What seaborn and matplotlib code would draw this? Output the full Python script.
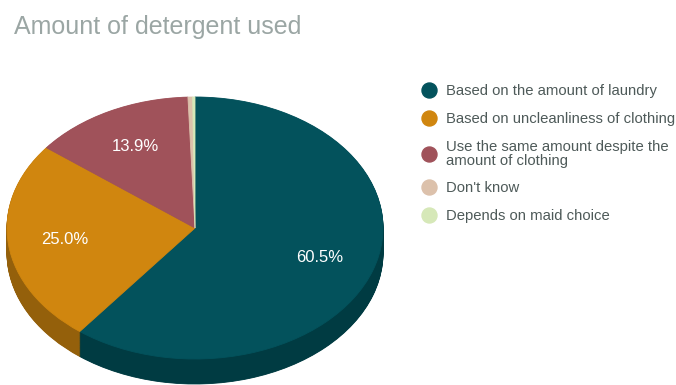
import matplotlib
matplotlib.use("Agg")
import matplotlib.pyplot as plt
from matplotlib.lines import Line2D
import seaborn as sns

# Survey answers: how the amount of detergent is chosen
categories = [
    "Based on the amount of laundry",
    "Based on uncleanliness of clothing",
    "Use the same amount despite the\namount of clothing",
    "Don't know",
    "Depends on maid choice",
]
shares = [60.5, 25.0, 13.9, 0.4, 0.2]
top_colors = ["#03525c", "#d0860f", "#a0525a", "#dcc1ab", "#d6e8b8"]
side_colors = ["#003b42", "#94600b", "#733a40", "#a08c7c", "#9cab86"]

title = "Amount of detergent used"

sns.set_theme(style="white")
plt.rcParams["font.family"] = ["Liberation Sans", "DejaVu Sans"]

W, H = 676, 385
fig = plt.figure(figsize=(W / 100, H / 100), dpi=100)

# Elliptical pie: centre and radii in pixels, extruded by a darker rim
cx, cy, rx, ry, depth_px = 195, 228, 188, 131, 25
x0, x1 = -1.03, 1.03
y0, y1 = -1.19, 1.05
left_px = cx + x0 * rx
ax = fig.add_axes([
    left_px / W,
    (H - (cy - y0 * ry)) / H,
    (x1 - x0) * rx / W,
    (y1 - y0) * ry / H,
])

depth = depth_px / ry
n_layers = 40
for k in range(n_layers):
    c = -depth + depth * k / n_layers
    wedges, _ = ax.pie(shares, colors=side_colors, startangle=90,
                       counterclock=False, center=(0, c),
                       wedgeprops=dict(linewidth=0.6))
    for w in wedges:
        w.set_edgecolor(w.get_facecolor())

wedges, _, autotexts = ax.pie(
    shares, colors=top_colors, startangle=90, counterclock=False,
    center=(0, 0), wedgeprops=dict(linewidth=0.6),
    autopct=lambda p: f"{p:.1f}%" if p >= 5 else "",
    pctdistance=0.70,
    textprops=dict(color="white", fontsize=12),
)
for w in wedges:
    w.set_edgecolor(w.get_facecolor())

ax.set_aspect("auto")
ax.set_xlim(x0, x1)
ax.set_ylim(y0, y1)
ax.axis("off")

fig.text(14 / W, 1 - 34 / H, title, fontsize=18, color="#9ba6a4",
         va="baseline", ha="left")

handles = [Line2D([], [], ls="", marker="o", markersize=10.8,
                  markerfacecolor=c, markeredgecolor=c) for c in top_colors]
leg = fig.legend(handles, categories, loc="upper left",
                 bbox_to_anchor=(422 / W, 1 - 84 / H), frameon=False,
                 fontsize=10.7, labelspacing=0.93, handlelength=1.0,
                 handletextpad=0.6, borderaxespad=0, borderpad=0)
for t in leg.get_texts():
    t.set_color("#4e5a59")
    t.set_linespacing(1.0)

fig.savefig("out.png", dpi=100)
